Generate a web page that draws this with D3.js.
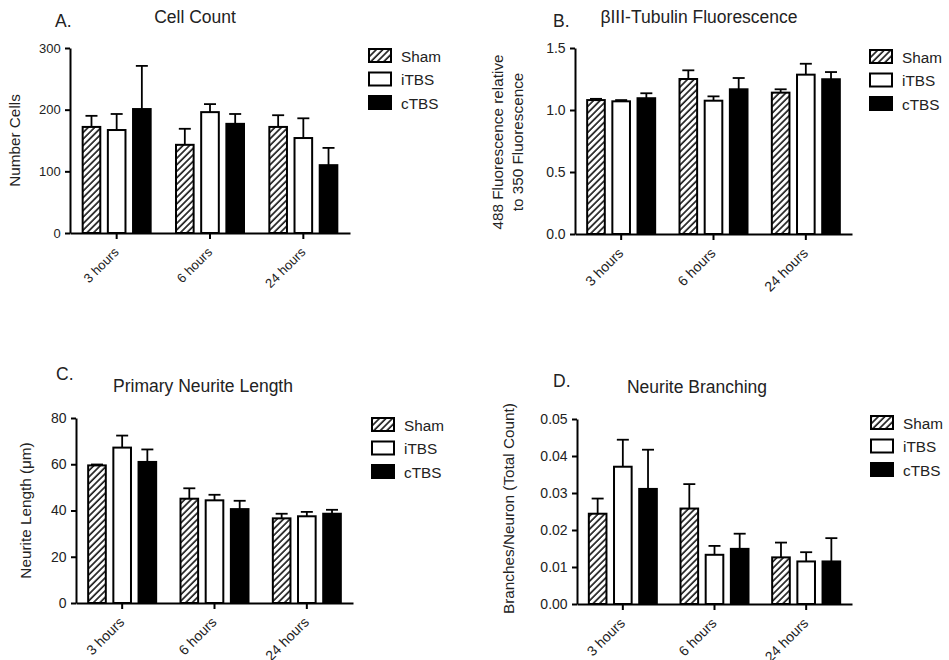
<!DOCTYPE html>
<html>
<head>
<meta charset="utf-8">
<script src="https://cdn.jsdelivr.net/npm/d3@7"></script>
<style>
  body { margin: 0; background: #fff; }
  svg { font-family: "Liberation Sans", Arial, sans-serif; }
  .axis path, .axis line { stroke: #000; stroke-width: 2; }
  .axis text { fill: #222; }
</style>
</head>
<body>
<div class="diagram"></div>
<script>
var width = 949, height = 660;

var groups = ["3 hours", "6 hours", "24 hours"];
var series = ["Sham", "iTBS", "cTBS"];

// mean and top of error bar, per series, per group (3h, 6h, 24h)
var cellMean = { Sham: [172, 143, 172], iTBS: [167, 196, 154], cTBS: [201, 177, 110] };
var cellErr  = { Sham: [190, 169, 191], iTBS: [193, 209, 186], cTBS: [271, 193, 138] };

var tubMean = { Sham: [1.08, 1.25, 1.14], iTBS: [1.07, 1.075, 1.285], cTBS: [1.095, 1.167, 1.248] };
var tubErr  = { Sham: [1.09, 1.32, 1.167], iTBS: [1.08, 1.11, 1.373], cTBS: [1.135, 1.258, 1.306] };

var lenMean = { Sham: [59.5, 45.1, 36.6], iTBS: [67.2, 44.4, 37.5], cTBS: [61.0, 40.6, 38.6] };
var lenErr  = { Sham: [59.9, 49.6, 38.6], iTBS: [72.4, 46.8, 39.4], cTBS: [66.4, 44.2, 40.3] };

var brMean = { Sham: [0.0244, 0.0258, 0.0126], iTBS: [0.0371, 0.0133, 0.0115], cTBS: [0.0311, 0.0149, 0.0115] };
var brErr  = { Sham: [0.0285, 0.0324, 0.0166], iTBS: [0.0444, 0.0157, 0.014], cTBS: [0.0417, 0.019, 0.0178] };

var cellTicks = [0, 100, 200, 300];
var tubTicks = [0, 0.5, 1.0, 1.5];
var lenTicks = [0, 20, 40, 60, 80];
var brTicks = [0, 0.01, 0.02, 0.03, 0.04, 0.05];

var svg = d3.select('.diagram')
  .append('svg')
  .attr('width', width)
  .attr('height', height);

var defs = svg.append('defs');
var pat = defs.append('pattern')
  .attr('id', 'hatch')
  .attr('patternUnits', 'userSpaceOnUse')
  .attr('width', 4.6)
  .attr('height', 4.6)
  .attr('patternTransform', 'rotate(45)');
pat.append('rect').attr('width', 4.6).attr('height', 4.6).attr('fill', '#fff');
pat.append('line')
  .attr('x1', 1).attr('y1', 0).attr('x2', 1).attr('y2', 4.6)
  .attr('stroke', '#111').attr('stroke-width', 1.6);

var fills = { Sham: 'url(#hatch)', iTBS: '#fff', cTBS: '#000' };

function drawPanel(p) {
  var g = svg.append('g');

  var y = d3.scaleLinear().domain([0, p.ticks[p.ticks.length - 1]]).range([p.bottom, p.top]);
  var x = d3.scaleBand().domain(groups).range([p.left, p.right]);
  var xs = d3.scaleBand().domain(series).range([-34, 34]).paddingInner(0.3);

  var grp = g.selectAll('.grp')
    .data(groups)
    .enter()
    .append('g')
    .attr('transform', function(d) { return 'translate(' + (x(d) + x.bandwidth() / 2) + ',0)'; });

  var bars = grp.selectAll('.bar')
    .data(function(d, i) {
      return series.map(function(s) { return { s: s, v: p.mean[s][i], e: p.err[s][i] }; });
    })
    .enter()
    .append('g');

  // error bars, upper half only
  bars.append('line')
    .attr('x1', function(d) { return xs(d.s) + xs.bandwidth() / 2; })
    .attr('x2', function(d) { return xs(d.s) + xs.bandwidth() / 2; })
    .attr('y1', function(d) { return y(d.v); })
    .attr('y2', function(d) { return y(d.e); })
    .attr('stroke', '#000').attr('stroke-width', 1.8);
  bars.append('line')
    .attr('x1', function(d) { return xs(d.s) + xs.bandwidth() / 2 - 6; })
    .attr('x2', function(d) { return xs(d.s) + xs.bandwidth() / 2 + 6; })
    .attr('y1', function(d) { return y(d.e); })
    .attr('y2', function(d) { return y(d.e); })
    .attr('stroke', '#000').attr('stroke-width', 1.8);

  bars.append('rect')
    .attr('x', function(d) { return xs(d.s); })
    .attr('width', xs.bandwidth())
    .attr('y', function(d) { return y(d.v); })
    .attr('height', function(d) { return p.bottom - y(d.v); })
    .attr('fill', function(d) { return fills[d.s]; })
    .attr('stroke', '#000')
    .attr('stroke-width', 2);

  g.append('g')
    .attr('class', 'axis')
    .attr('transform', 'translate(' + p.left + ',0)')
    .call(d3.axisLeft(y).tickValues(p.ticks).tickFormat(d3.format(p.fmt)).tickSize(5).tickSizeOuter(0))
    .selectAll('text')
    .attr('font-size', p.tickFont)
    .attr('dx', '-0.1em');

  g.append('g')
    .attr('class', 'axis')
    .attr('transform', 'translate(0,' + p.bottom + ')')
    .call(d3.axisBottom(x).tickSize(6).tickSizeOuter(0))
    .selectAll('text')
    .attr('font-size', p.tickFont)
    .attr('text-anchor', 'end')
    .attr('y', 0)
    .attr('dy', 0)
    .attr('transform', 'translate(3,20) rotate(-45)');

  // y label
  var lab = g.append('text')
    .attr('transform', 'translate(' + p.labelX + ',' + ((p.top + p.bottom) / 2 + p.labelDy) + ') rotate(-90)')
    .attr('text-anchor', 'middle')
    .attr('font-size', 15.3)
    .attr('fill', '#222');
  p.label.forEach(function(t, i) {
    lab.append('tspan').attr('x', 0).attr('dy', i === 0 ? 0 : '1.3em').text(t);
  });

  g.append('text')
    .attr('x', p.titleX).attr('y', p.titleY)
    .attr('text-anchor', 'middle')
    .attr('font-size', 17.5)
    .attr('fill', '#222')
    .text(p.title);

  g.append('text')
    .attr('x', p.letterX).attr('y', p.letterY)
    .attr('font-size', 17.5)
    .attr('fill', '#222')
    .text(p.letter);

  // legend
  var leg = g.selectAll('.leg')
    .data(series)
    .enter()
    .append('g')
    .attr('transform', function(d, i) { return 'translate(' + p.legX + ',' + (p.legY + i * 23.5) + ')'; });
  leg.append('rect')
    .attr('width', 22).attr('height', 13)
    .attr('fill', function(d) { return fills[d]; })
    .attr('stroke', '#000').attr('stroke-width', 2);
  leg.append('text')
    .attr('x', 32).attr('y', 12.5)
    .attr('font-size', 15.3)
    .attr('fill', '#222')
    .text(function(d) { return d; });
}

drawPanel({ mean: cellMean, err: cellErr, ticks: cellTicks, fmt: 'd', tickFont: 13,
  left: 70, right: 350, top: 48, bottom: 233,
  label: ['Number Cells'], labelX: 20, labelDy: 0, title: 'Cell Count', titleX: 195, titleY: 23,
  letter: 'A.', letterX: 55, letterY: 27, legX: 369, legY: 49 });

drawPanel({ mean: tubMean, err: tubErr, ticks: tubTicks, fmt: '.1f', tickFont: 14,
  left: 575, right: 852, top: 48, bottom: 234,
  label: ['488 Fluorescence relative', 'to 350 Fluorescence'], labelX: 503, labelDy: 1,
  title: '\u03B2III-Tubulin Fluorescence', titleX: 699, titleY: 23,
  letter: 'B.', letterX: 553, letterY: 27, legX: 870, legY: 50 });

drawPanel({ mean: lenMean, err: lenErr, ticks: lenTicks, fmt: 'd', tickFont: 14,
  left: 76, right: 353, top: 418, bottom: 603,
  label: ['Neurite Length (\u03BCm)'], labelX: 31, labelDy: 0, title: 'Primary Neurite Length', titleX: 203, titleY: 392,
  letter: 'C.', letterX: 56, letterY: 380, legX: 372, legY: 418 });

drawPanel({ mean: brMean, err: brErr, ticks: brTicks, fmt: '.2f', tickFont: 14,
  left: 577, right: 852, top: 419, bottom: 604,
  label: ['Branches/Neuron (Total Count)'], labelX: 514, labelDy: -3, title: 'Neurite Branching', titleX: 697, titleY: 393,
  letter: 'D.', letterX: 553, letterY: 387, legX: 871, legY: 416 });
</script>
</body>
</html>
